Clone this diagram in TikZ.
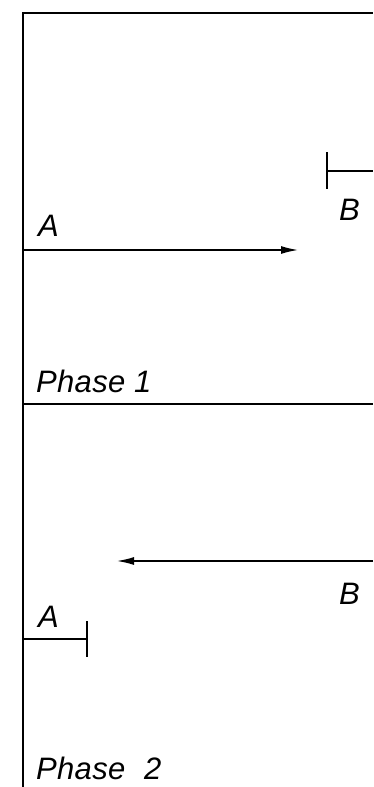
\documentclass[tikz,border=0pt]{standalone}
\usepackage{fontspec}
\setmainfont{Liberation Sans}
\newfontfamily\cadfont[LetterSpace=1]{Liberation Sans Italic}
\usetikzlibrary{arrows.meta}
\tikzset{
  line/.style={line width=2.2pt},
  msg/.style={line width=2.2pt,-{Latex[length=18pt,width=8pt]}},
  lbl/.style={font=\cadfont\fontsize{31}{34}\selectfont,inner sep=0pt},
}
\begin{document}
\begin{tikzpicture}[x=1pt,y=-1pt]
\useasboundingbox (0,0) rectangle (373,787);
% coordinates
\coordinate (top) at (23,13);
\coordinate (bot) at (23,787);
\coordinate (topR) at (373,13);
\coordinate (ph1L) at (23,404);
\coordinate (ph1R) at (373,404);
\coordinate (aS) at (23,250);
\coordinate (aE) at (299,250);
\coordinate (bBarT) at (327,152);
\coordinate (bBarB) at (327,189);
\coordinate (bBarM) at (327,171);
\coordinate (bBarR) at (373,171);
\coordinate (bS) at (373,561);
\coordinate (bE) at (116,561);
\coordinate (aBarL) at (23,639);
\coordinate (aBarM) at (87,639);
\coordinate (aBarT) at (87,621);
\coordinate (aBarB) at (87,657);
% frame lines
\draw[line] (bot) -- (top) -- (topR);
\draw[line] (ph1L) -- (ph1R);
% phase 1
\draw[msg] (aS) -- (aE);
\draw[line] (bBarT) -- (bBarB);
\draw[line] (bBarM) -- (bBarR);
\node[lbl,anchor=base west] (labA1) at (38,236) {A};
\node[lbl,anchor=base west] (labB1) at (339,220) {B};
\node[lbl,anchor=base west] (ph1) at (36,392) {Phase 1};
% phase 2
\draw[msg] (bS) -- (bE);
\draw[line] (aBarL) -- (aBarM);
\draw[line] (aBarT) -- (aBarB);
\node[lbl,anchor=base west] (labB2) at (339,604) {B};
\node[lbl,anchor=base west] (labA2) at (38,627) {A};
\node[lbl,anchor=base west] (ph2) at (36,779) {Phase\hspace{10pt} 2};
\end{tikzpicture}
\end{document}
